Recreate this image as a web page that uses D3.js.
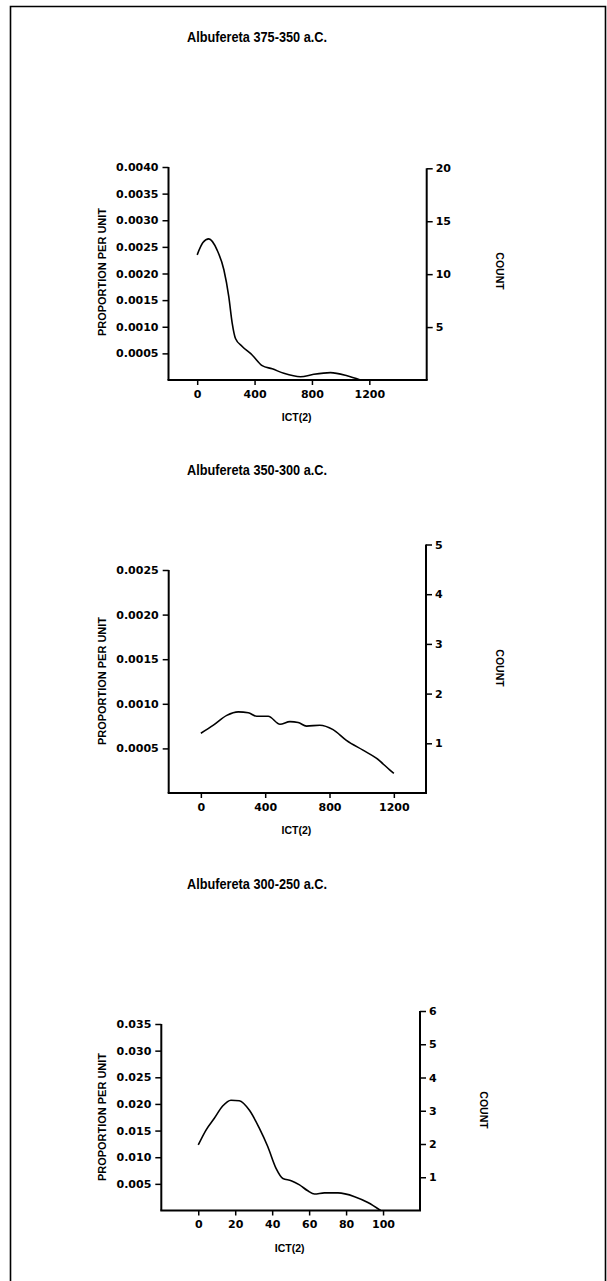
<!DOCTYPE html>
<html>
<head>
<meta charset="utf-8">
<script src="https://cdn.jsdelivr.net/npm/d3@7"></script>
<style>
  html, body { margin: 0; padding: 0; background: #fff; }
  svg { display: block; }
  text { fill: #000; }
</style>
</head>
<body>
<svg id="chart" width="607" height="1281"></svg>
<script>
// ---------- DATA ----------
const titles = ["Albufereta 375-350 a.C.", "Albufereta 350-300 a.C.", "Albufereta 300-250 a.C."];
const xLabel = "ICT(2)";
const yLabelLeft = "PROPORTION PER UNIT";
const yLabelRight = "COUNT";

// Panel 1: 375-350 a.C.
const ict1 = [0, 40, 81, 139, 186, 220, 244, 267, 314, 383, 453, 523, 604, 720, 813, 929, 1045, 1138];
const prop1 = [0.00235, 0.00258, 0.00265, 0.00244, 0.00207, 0.00157, 0.00107, 0.00078, 0.00063, 0.00047, 0.00027, 0.00021, 0.000125, 0.00006, 0.000107, 0.000138, 0.00008, 0];
const xTicks1 = [0, 400, 800, 1200];
const yTicks1 = [0.0005, 0.0010, 0.0015, 0.0020, 0.0025, 0.0030, 0.0035, 0.0040];
const cTicks1 = [5, 10, 15, 20];

// Panel 2: 350-300 a.C.
const ict2 = [0, 78, 161, 233, 295, 347, 419, 492, 554, 605, 657, 740, 822, 905, 1008, 1091, 1174, 1200];
const prop2 = [0.00067, 0.00076, 0.00087, 0.00091, 0.00090, 0.00086, 0.00086, 0.00077, 0.00080, 0.00079, 0.00075, 0.00076, 0.00071, 0.00059, 0.00048, 0.00039, 0.00026, 0.00022];
const xTicks2 = [0, 400, 800, 1200];
const yTicks2 = [0.0005, 0.0010, 0.0015, 0.0020, 0.0025];
const cTicks2 = [1, 2, 3, 4, 5];

// Panel 3: 300-250 a.C.
const ict3 = [0, 4.2, 8.7, 13.2, 17.7, 22.2, 27.7, 33.1, 37.6, 42.1, 45.8, 50.3, 54.8, 59.3, 62.9, 68.3, 75.6, 84.6, 91.8, 98.7];
const prop3 = [0.0123, 0.0151, 0.0173, 0.0196, 0.0207, 0.0206, 0.0188, 0.0154, 0.0120, 0.0079, 0.0060, 0.0056, 0.0048, 0.0037, 0.0031, 0.0033, 0.0033, 0.0026, 0.0015, 0];
const xTicks3 = [0, 20, 40, 60, 80, 100];
const yTicks3 = [0.005, 0.010, 0.015, 0.020, 0.025, 0.030, 0.035];
const cTicks3 = [1, 2, 3, 4, 5, 6];

// ---------- LAYOUT ----------
const panels = [
  { title: titles[0], ict: ict1, prop: prop1, xTicks: xTicks1, yTicks: yTicks1, cTicks: cTicks1,
    xDom: [-200, 1600], yMax: 0.0040, cMax: 20, yFmt: ".4f",
    left: 168.5, right: 426.7, bottom: 380, yTop: 167, cTop: 168.3,
    titleX: 187, titleY: 42, countX: 500, countY: 271, yLabY: 272 },
  { title: titles[1], ict: ict2, prop: prop2, xTicks: xTicks2, yTicks: yTicks2, cTicks: cTicks2,
    xDom: [-200, 1400], yMax: 0.0025, cMax: 5, yFmt: ".4f",
    left: 168.7, right: 426, bottom: 793, yTop: 570, cTop: 544.5,
    titleX: 187, titleY: 475, countX: 500, countY: 668, yLabY: 681 },
  { title: titles[2], ict: ict3, prop: prop3, xTicks: xTicks3, yTicks: yTicks3, cTicks: cTicks3,
    xDom: [-20, 120], yMax: 0.035, cMax: 6, yFmt: ".3f",
    left: 161.3, right: 420, bottom: 1210.5, yTop: 1024, cTop: 1011,
    titleX: 187, titleY: 889, countX: 484, countY: 1110, yLabY: 1117 }
];

const svg = d3.select("#chart");

// Frame
svg.append("path")
  .attr("d", "M10.5,1281 L10.5,6.5 L605.5,6.5 L605.5,1281")
  .attr("fill", "none").attr("stroke", "#000").attr("stroke-width", 1.6);

const tickFont = "'DejaVu Sans', sans-serif";
const labFont = "'Liberation Sans', Arial, sans-serif";

panels.forEach(p => {
  const g = svg.append("g");
  const x = d3.scaleLinear().domain(p.xDom).range([p.left, p.right]);
  const y = d3.scaleLinear().domain([0, p.yMax]).range([p.bottom, p.yTop]);
  const c = d3.scaleLinear().domain([0, p.cMax]).range([p.bottom, p.cTop]);

  // Title
  g.append("text")
    .attr("x", p.titleX).attr("y", p.titleY)
    .attr("font-family", labFont).attr("font-weight", "bold").attr("font-size", 14)
    .attr("textLength", 140).attr("lengthAdjust", "spacingAndGlyphs")
    .text(p.title);

  // Left axis
  const yAxis = d3.axisLeft(y).tickValues(p.yTicks).tickFormat(d3.format(p.yFmt))
    .tickSize(6).tickSizeOuter(0).tickPadding(4);
  const ga = g.append("g").attr("transform", `translate(${p.left},0)`).call(yAxis);
  ga.select(".domain").remove();
  ga.append("line").attr("x1", 0).attr("x2", 0).attr("y1", p.yTop).attr("y2", p.bottom)
    .attr("stroke", "#000").attr("stroke-width", 2);

  // Right axis
  const cAxis = d3.axisRight(c).tickValues(p.cTicks).tickFormat(d3.format("d"))
    .tickSize(6).tickSizeOuter(0).tickPadding(3);
  const gc = g.append("g").attr("transform", `translate(${p.right},0)`).call(cAxis);
  gc.select(".domain").remove();
  gc.append("line").attr("x1", 0).attr("x2", 0).attr("y1", p.cTop).attr("y2", p.bottom)
    .attr("stroke", "#000").attr("stroke-width", 2);

  // Bottom axis
  const xAxis = d3.axisBottom(x).tickValues(p.xTicks).tickFormat(d3.format("d"))
    .tickSize(5).tickSizeOuter(0).tickPadding(5);
  const gx = g.append("g").attr("transform", `translate(0,${p.bottom})`).call(xAxis);
  gx.select(".domain").remove();
  gx.append("line").attr("x1", p.left - 1).attr("x2", p.right + 1).attr("y1", 0).attr("y2", 0)
    .attr("stroke", "#000").attr("stroke-width", 2);

  [ga, gc, gx].forEach(a => {
    a.selectAll(".tick line").attr("stroke", "#000").attr("stroke-width", 1.5);
    a.selectAll(".tick text")
      .attr("font-family", tickFont).attr("font-weight", "bold").attr("font-size", 11)
      .attr("fill", "#000");
  });

  // Axis titles
  g.append("text")
    .attr("transform", `translate(${p.left + (p.right - p.left) / 2 - 1},${p.bottom + 41}) `)
    .attr("text-anchor", "middle")
    .attr("font-family", labFont).attr("font-weight", "bold").attr("font-size", 10.5)
    .text(xLabel);

  g.append("text")
    .attr("transform", `translate(105.5,${p.yLabY}) rotate(-90)`)
    .attr("text-anchor", "middle")
    .attr("font-family", labFont).attr("font-weight", "bold").attr("font-size", 10.5)
    .attr("textLength", 128).attr("lengthAdjust", "spacingAndGlyphs")
    .text(yLabelLeft);

  g.append("text")
    .attr("transform", `translate(${p.countX - 4},${p.countY}) rotate(90)`)
    .attr("text-anchor", "middle")
    .attr("font-family", labFont).attr("font-weight", "bold").attr("font-size", 10.5)
    .text(yLabelRight);

  // Curve
  const pts = p.ict.map((v, i) => [v, p.prop[i]]);
  const line = d3.line()
    .x(d => x(d[0])).y(d => y(d[1]))
    .curve(d3.curveMonotoneX);
  g.append("path")
    .datum(pts)
    .attr("d", line)
    .attr("fill", "none").attr("stroke", "#000").attr("stroke-width", 1.6);
});
</script>
</body>
</html>
